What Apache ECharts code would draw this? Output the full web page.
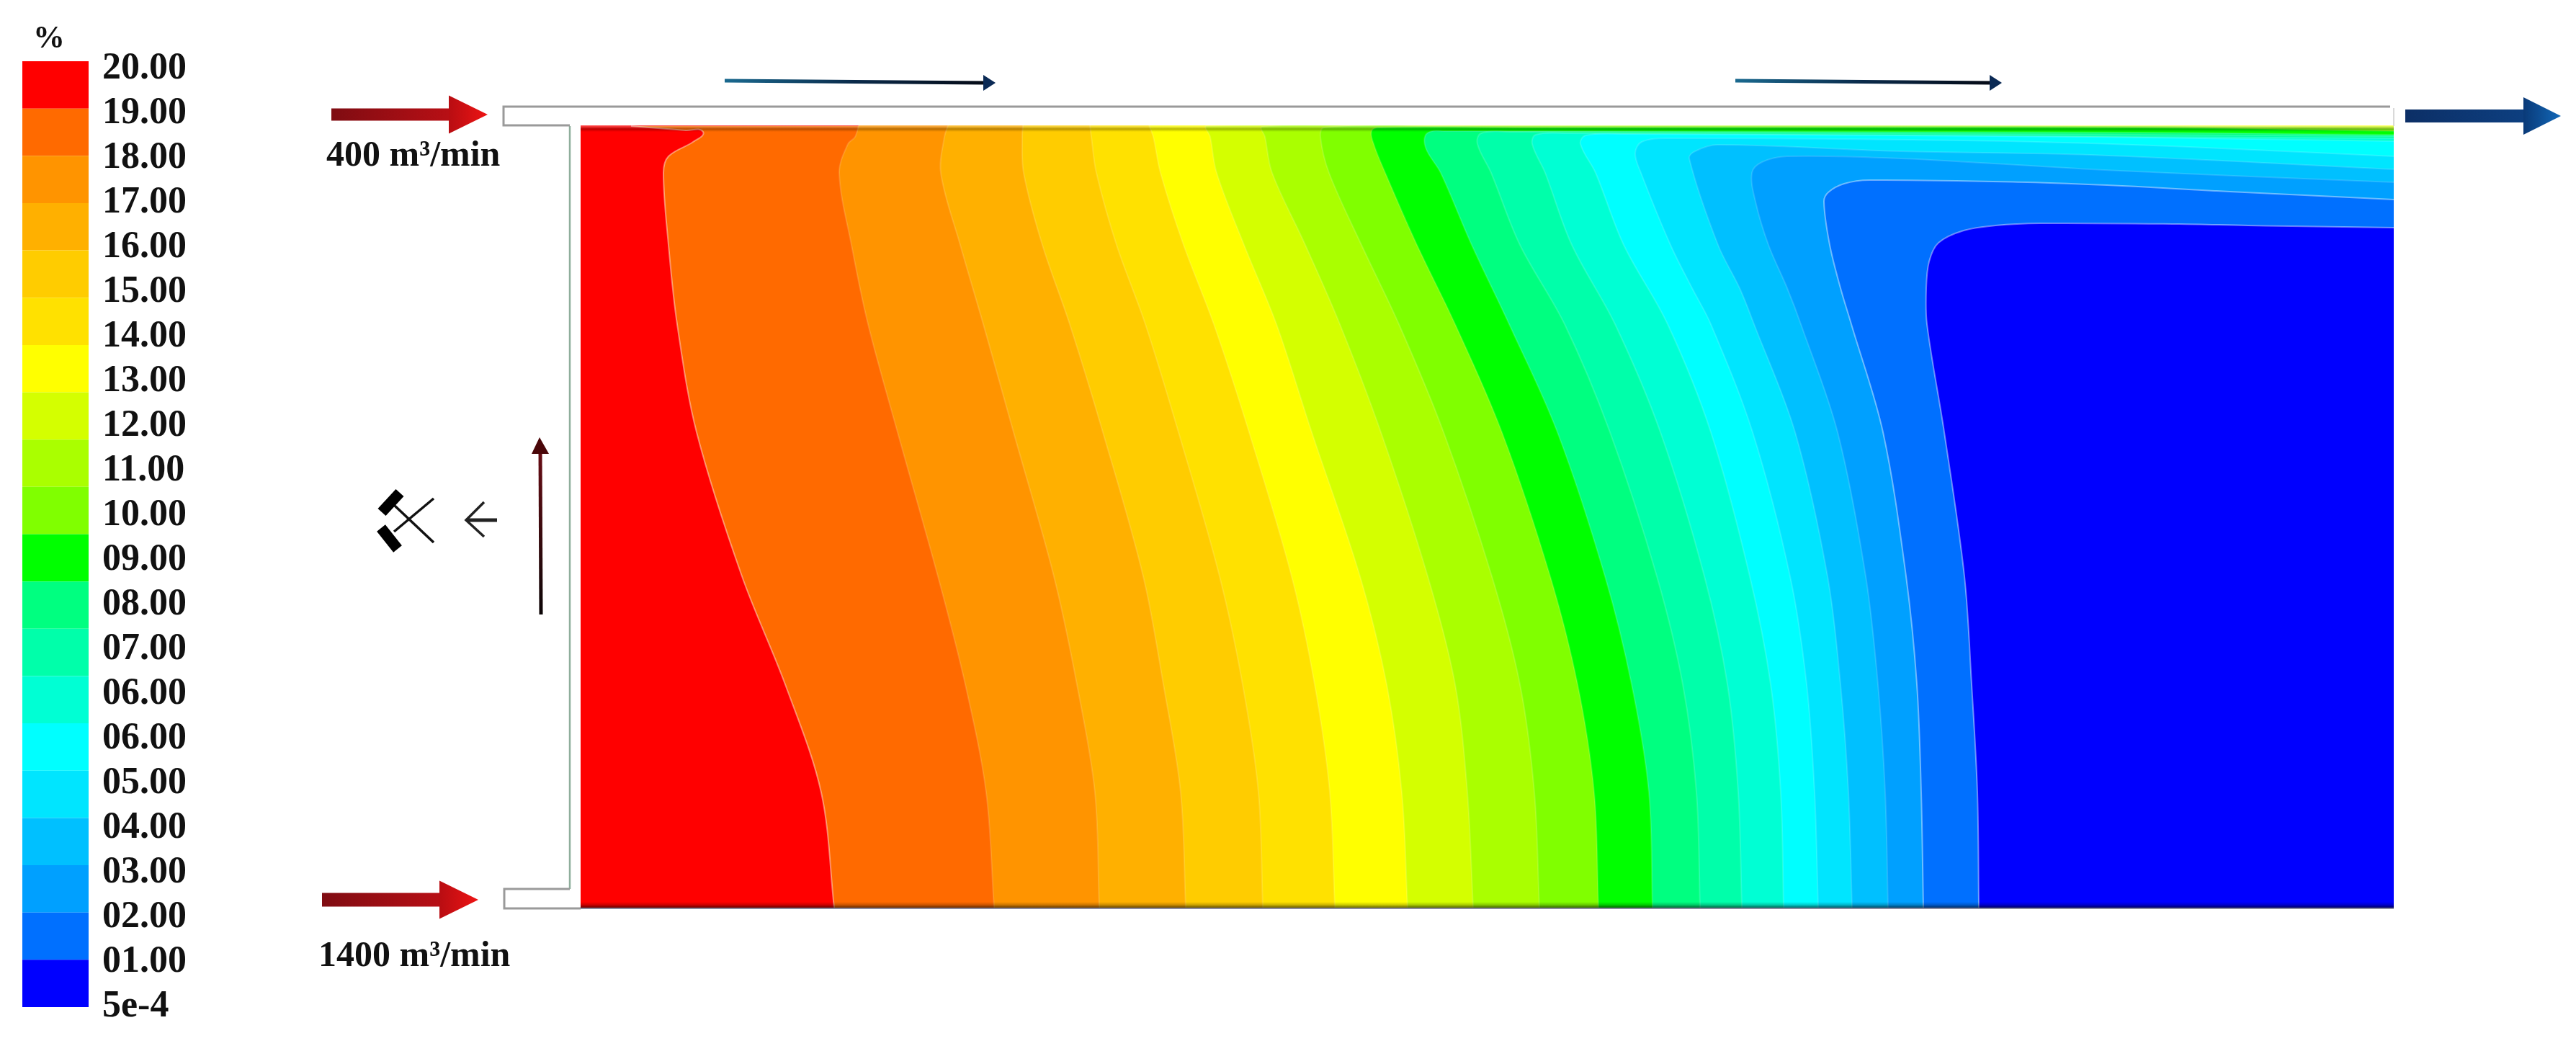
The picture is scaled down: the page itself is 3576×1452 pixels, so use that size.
<!DOCTYPE html>
<html>
<head>
<meta charset="utf-8">
<style>html,body{margin:0;padding:0;background:#fff}#c{width:3576px;height:1452px}</style>
<script src="https://cdn.jsdelivr.net/npm/echarts@6/dist/echarts.min.js"></script>
</head>
<body>
<div id="c"></div>
<script>
// Colour scale, top to bottom
const legendUnit = '%';
const legendLabels = ['20.00','19.00','18.00','17.00','16.00','15.00','14.00','13.00','12.00','11.00','10.00','09.00','08.00','07.00','06.00','06.00','05.00','04.00','03.00','02.00','01.00','5e-4'];
const bandColors = ['#ff0000','#ff6a00','#ff9400','#ffb000','#ffcc00','#ffe100','#ffff00','#d4ff00','#aaff00','#80ff00','#00ff00','#00ff80','#00ffaa','#00ffd4','#00ffff','#00e5ff','#00c0ff','#00a0ff','#0070ff','#0000ff'];
// Extent of the section (length, height) in the units used by the contours
const sectionLength = 2517;
const sectionHeight = 1086;
// Iso-concentration contours, each [along, height]
const contour19 = [[352,0],[334,160],[284,310],[224,460],[161,660],[134,810],[122,920],[115,1020],[122,1043],[156,1063],[170,1077],[146,1079],[70,1085]];
const contour18 = [[574,0],[563,160],[534,310],[496,460],[440,660],[399,810],[376,920],[359,1020],[371,1060],[381,1070],[386,1086]];
const contour17 = [[720,0],[714,160],[689,310],[657,460],[601,660],[559,810],[527,920],[500,1020],[505,1070],[510,1086]];
const contour16 = [[840,0],[833,160],[809,310],[781,460],[725,660],[679,810],[641,920],[615,1020],[613,1070],[614,1086]];
const contour15 = [[947,0],[941,160],[919,310],[887,460],[830,660],[784,810],[744,920],[716,1020],[709,1070],[707,1086]];
const contour14 = [[1047,0],[1040,160],[1019,310],[987,460],[928,660],[879,810],[837,920],[805,1020],[795,1070],[789,1086]];
const contour13 = [[1148,0],[1140,160],[1119,310],[1082,460],[1015,660],[966,810],[921,920],[883,1020],[874,1070],[869,1085],[1500,1085.5],[2517,1085]];
const contour12 = [[1239,0],[1231,160],[1214,310],[1176,460],[1111,660],[1054,810],[1006,920],[960,1020],[950,1070],[946,1084],[1100,1085],[2100,1085],[2517,1083]];
const contour11 = [[1331,0],[1324,160],[1304,310],[1265,460],[1198,660],[1136,810],[1084,920],[1039,1020],[1027,1070],[1032,1083],[1200,1085],[2100,1085],[2517,1081]];
const contour10 = [[1413,0],[1407,160],[1384,310],[1346,460],[1279,660],[1214,810],[1161,920],[1117,1020],[1101,1060],[1098,1078],[1108,1083],[1300,1083],[2160,1083],[2517,1078]];
const contour09 = [[1488,0],[1483,160],[1459,310],[1422,460],[1356,660],[1289,810],[1237,920],[1194,1020],[1173,1055],[1175,1075],[1200,1078],[2160,1076],[2517,1073]];
const contour08 = [[1554,0],[1549,160],[1530,310],[1494,460],[1429,660],[1366,810],[1304,920],[1264,1020],[1245,1060],[1250,1075],[1290,1077],[2160,1073],[2517,1071]];
const contour07 = [[1612,0],[1607,160],[1592,310],[1560,460],[1499,660],[1436,810],[1376,920],[1339,1020],[1321,1060],[1326,1073],[1370,1075],[2160,1070],[2517,1068]];
const contour06b = [[1670,0],[1666,160],[1652,310],[1623,460],[1569,660],[1509,810],[1448,920],[1409,1020],[1388,1060],[1395,1072],[1450,1074],[2094,1070],[2517,1064]];
const contour06a = [[1718,0],[1713,160],[1702,310],[1679,460],[1627,660],[1569,810],[1543,860],[1513,920],[1472,1020],[1464,1047],[1473,1063],[1508,1068],[1920,1065],[2183,1058],[2517,1043]];
const contour05 = [[1765,0],[1760,160],[1749,310],[1731,460],[1686,660],[1629,810],[1609,860],[1579,920],[1539,1040],[1547,1050],[1578,1059],[1833,1050],[2096,1045],[2517,1025]];
const contour04 = [[1815,0],[1811,160],[1801,310],[1784,460],[1745,660],[1694,810],[1675,860],[1649,920],[1631,980],[1626,1020],[1640,1035],[1675,1043],[1833,1040],[2096,1025],[2271,1017],[2517,1007]];
const contour03 = [[1864,0],[1861,160],[1855,310],[1840,460],[1808,660],[1764,810],[1749,860],[1734,920],[1726,980],[1732,993],[1754,1005],[1789,1010],[2008,1007],[2140,1002],[2271,995],[2517,983]];
const contour02 = [[1941,0],[1939,160],[1931,310],[1921,460],[1893,660],[1869,810],[1868,860],[1872,897],[1885,923],[1920,940],[1964,947],[2026,950],[2219,949],[2315,947],[2517,944]];
const sectionBase = [[0,0],[0,sectionHeight]];
const contours = [sectionBase,contour19,contour18,contour17,contour16,contour15,contour14,contour13,contour12,contour11,contour10,contour09,contour08,contour07,contour06b,contour06a,contour05,contour04,contour03,contour02];
// Flow notes
const noteUpper = '400 m³/min';
const noteLower = '1400 m³/min';

const FONT = '"Liberation Serif","Times New Roman",serif';

function curvePath(p){
  let d = 'M'+p[0][0]+' '+p[0][1];
  for(let i=0;i<p.length-1;i++){
    const a=p[Math.max(i-1,0)],b=p[i],c=p[i+1],e=p[Math.min(i+2,p.length-1)];
    const len=Math.hypot(c[0]-b[0],c[1]-b[1])/3;
    const t=(u,v)=>{const n=Math.hypot(v[0]-u[0],v[1]-u[1])||1;return [(v[0]-u[0])/n,(v[1]-u[1])/n];};
    const t1=t(a,c),t2=t(b,e);
    d+=' C'+(b[0]+t1[0]*len)+' '+(b[1]+t1[1]*len)+' '+(c[0]-t2[0]*len)+' '+(c[1]-t2[1]*len)+' '+c[0]+' '+c[1];
  }
  return d;
}
function renderBand(params,api){
  const i=params.dataIndex;
  const pts=contours[i].map(q=>api.coord(q));
  const tr=api.coord([sectionLength,sectionHeight]),br=api.coord([sectionLength,0]);
  const line=curvePath(pts);
  const last=pts[pts.length-1];
  const fillPath=line+(last[0]<br[0]-0.5?' L'+tr[0]+' '+tr[1]:'')+' L'+br[0]+' '+last[1]+' L'+br[0]+' '+br[1]+' Z';
  const children=[{type:'path',shape:{pathData:fillPath},style:{fill:bandColors[i],stroke:null}}];
  if(i>0){
    const strong=(i===1||i===19||i===18);
    children.push({type:'path',shape:{pathData:line},style:{fill:null,stroke:'rgba(255,255,255,'+(strong?0.42:0.14)+')',lineWidth:2}});
  }
  return {type:'group',children:children};
}

// ---- decorations ----
const deco=[];
const LG=(x0,y0,x1,y1,stops)=>new echarts.graphic.LinearGradient(x0,y0,x1,y1,stops.map((c,i)=>({offset:i/(stops.length-1),color:c})));
function poly(points,fill){deco.push({type:'polygon',z:50,shape:{points},style:{fill}});}
function line(points,stroke,w){deco.push({type:'polyline',z:50,shape:{points},style:{stroke,lineWidth:w,fill:null}});}
function text(x,y,t,size,align){deco.push({type:'text',z:60,x,y,style:{text:t,font:'bold '+size+'px '+FONT,fill:'#111',textAlign:align||'left',textVerticalAlign:'middle'}});}
function bigArrow(x0,x1,xh,y,th,hh,shaft,head){
  poly([[x0,y-th/2],[x1+2,y-th/2],[x1+2,y+th/2],[x0,y+th/2]],shaft);
  poly([[x1,y-hh/2],[xh,y],[x1,y+hh/2]],head);
}
// section shading at top and bottom edge
deco.push({type:'rect',z:40,shape:{x:806,y:171,width:2517,height:12},style:{fill:LG(0,0,0,1,['rgba(255,255,255,0.9)','rgba(255,255,255,0.25)','rgba(0,0,0,0.28)','rgba(0,0,0,0)'])}});
deco.push({type:'rect',z:40,shape:{x:806,y:1252,width:2517,height:8},style:{fill:LG(0,0,0,1,['rgba(0,0,0,0)','rgba(0,0,0,0.2)','rgba(0,0,0,0.6)'])}});
// ducts
line([[791,175],[791,1234]],'#8fae9c',2.5);
line([[3318,148],[699,148],[699,174],[791,174]],'#9a9a9a',3);
line([[791,1234],[700,1234],[700,1261],[806,1261]],'#9a9a9a',3);
line([[806,1261],[3323,1261]],'#8a8aa0',2);
line([[3323,150],[3323,175]],'#cccccc',1.5);
// inflow / outflow arrows
const redShaft=LG(0,0,1,0,['#7f0c12','#b80f15']), redHead=LG(0,0,1,0,['#b80d12','#ee1414']);
bigArrow(460,623,677,159,17,53,redShaft,redHead);
bigArrow(447,610,664,1249,19,53,redShaft,redHead);
bigArrow(3339,3503,3555,161,18,52,LG(0,0,1,0,['#0c2f66','#0d3f80']),LG(0,0,1,0,['#0a3a78','#1268b8']));
// thin flow arrows
function thinArrow(x0,x1){
  deco.push({type:'line',z:50,shape:{x1:x0,y1:112,x2:x1-14,y2:115},style:{stroke:LG(0,0,1,0,['#1a6a90','#0a2a4a','#050a15']),lineWidth:5}});
  poly([[x1-17,104],[x1,115],[x1-17,126]],'#0b2a55');
}
thinArrow(1006,1382);
thinArrow(2409,2779);
// vertical flow arrow
deco.push({type:'line',z:50,shape:{x1:751,y1:853,x2:750,y2:625},style:{stroke:LG(0,1,0,0,['#0a0506','#3a0a0e','#6a0c14']),lineWidth:5}});
poly([[738,630],[749,607],[762,630]],'#4a0609');
// crossed hammers
line([[548,702],[602,753]],'#111',3.5);
line([[547,738],[602,692]],'#111',3.5);
line([[530,711],[555,684]],'#000',15);
line([[529,733],[552,762]],'#000',15);
// small pointer
line([[690,722],[649,722]],'#222',5);
line([[672,697],[647,722],[672,745]],'#222',3.5);
// texts
text(68,55,legendUnit,44,'center');
text(453,217,noteUpper,50);
text(442,1328,noteLower,50);

const legendData=bandColors.map((c,i)=>({value:1,itemStyle:{color:c}}));
const option={
  backgroundColor:'#fff',
  animation:false,
  grid:[
    {left:806,top:174,width:sectionLength,height:sectionHeight},
    {left:31,top:85,width:92,height:1313},
    {left:123,top:96,width:1,height:1302}
  ],
  xAxis:[
    {type:'value',gridIndex:0,min:0,max:sectionLength,show:false},
    {type:'value',gridIndex:1,min:0,max:1,show:false},
    {type:'value',gridIndex:2,min:0,max:1,show:false}
  ],
  yAxis:[
    {type:'value',gridIndex:0,min:0,max:sectionHeight,show:false},
    {type:'category',gridIndex:1,inverse:true,show:false,data:bandColors.map((c,i)=>String(i))},
    {type:'value',gridIndex:2,inverse:true,min:0,max:legendLabels.length-1,interval:1,position:'right',
     axisLine:{show:false},axisTick:{show:false},splitLine:{show:false},
     axisLabel:{show:true,margin:18,hideOverlap:false,showMinLabel:true,showMaxLabel:true,color:'#111',
       fontFamily:FONT,fontWeight:'bold',fontSize:52,formatter:v=>legendLabels[v]}}
  ],
  series:[
    {type:'custom',xAxisIndex:0,yAxisIndex:0,clip:true,coordinateSystem:'cartesian2d',renderItem:renderBand,
     data:contours.map((c,i)=>[c[0][0],c[0][1],i]),encode:{x:0,y:1},silent:true},
    {type:'bar',xAxisIndex:1,yAxisIndex:1,barWidth:'100%',data:legendData,silent:true},
  ],
  graphic:{elements:deco}
};
const chart=echarts.init(document.getElementById('c'),null,{renderer:'canvas',width:3576,height:1452});
chart.setOption(option);
</script>
</body>
</html>
